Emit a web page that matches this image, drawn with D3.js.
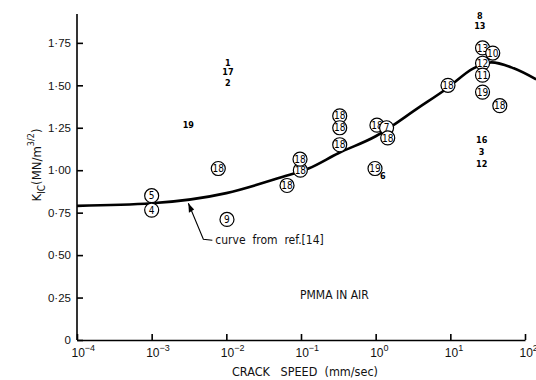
<!DOCTYPE html>
<html>
<head>
<meta charset="utf-8">
<script src="https://cdn.jsdelivr.net/npm/d3@7"></script>
<style>
  body { margin: 0; background: #fff; }
  svg { display: block; font-family: "Liberation Sans Narrow", "DejaVu Sans Condensed", "Liberation Sans", sans-serif; }
</style>
</head>
<body>
<div id="chart"></div>
<script>
// crack speed (mm/sec) vs K_IC (MN/m^3/2), labels are reference numbers
const circledRef = ["5", "4", "18", "9", "18", "18", "18", "18", "18", "18", "18", "7", "18", "19", "18", "13", "10", "12", "11", "19", "18"];
const circledSpeed = [0.001, 0.001, 0.0078, 0.0102, 0.065, 0.098, 0.097, 0.33, 0.33, 0.33, 1.04, 1.4, 1.45, 0.98, 9.3, 27, 37, 27, 27, 27, 46];
const circledK = [0.85, 0.765, 1.01, 0.71, 0.91, 1.0, 1.065, 1.32, 1.25, 1.15, 1.265, 1.25, 1.19, 1.01, 1.5, 1.72, 1.69, 1.63, 1.56, 1.46, 1.38];

const plainRef = ["19", "1", "17", "2", "6", "8", "13", "16", "3", "12"];
const plainSpeed = [0.0031, 0.0105, 0.0105, 0.0105, 1.25, 24.8, 24.8, 26.3, 26.3, 26.3];
const plainK = [1.265, 1.635, 1.58, 1.515, 0.97, 1.91, 1.85, 1.18, 1.11, 1.04];

// curve from ref.[14]
const curveSpeed = [1e-4, 1e-3, 1e-2, 0.056, 0.126, 0.316, 1, 3.8, 8.9, 20.4, 35.5, 70.8, 141];
const curveK = [0.79, 0.805, 0.865, 0.96, 1.01, 1.10, 1.2, 1.37, 1.48, 1.6, 1.635, 1.60, 1.535];

const xTicks = [1e-4, 1e-3, 1e-2, 1e-1, 1, 10, 100];
const xExp = ["-4", "-3", "-2", "-1", "0", "1", "2"];
const yTicks = [0, 0.25, 0.5, 0.75, 1.0, 1.25, 1.5, 1.75];

const width = 536, height = 380;
const svg = d3.select("#chart").append("svg")
    .attr("width", width)
    .attr("height", height);

const x = d3.scaleLog().domain([1e-4, 1e2]).range([77, 525]);
const y = d3.scaleLinear().domain([0, 1.92]).range([340, 14]);

// curve first so circles cover it
const line = d3.line()
    .x((d, i) => x(curveSpeed[i]))
    .y((d, i) => y(curveK[i]))
    .curve(d3.curveMonotoneX);

svg.append("path")
    .datum(curveK)
    .attr("d", line)
    .attr("fill", "none")
    .attr("stroke", "#000")
    .attr("stroke-width", 2.6);

// axes
const xAxis = svg.append("g")
    .attr("transform", `translate(0,${y(0)})`)
    .call(d3.axisBottom(x).tickValues(xTicks).tickSize(-6).tickSizeOuter(0).tickPadding(8).tickFormat(""));

xAxis.selectAll(".tick text").each(function(d, i) {
    const t = d3.select(this)
        .attr("text-anchor", "start")
        .attr("x", -6)
        .attr("font-size", 12)
        .attr("fill", "#111");
    t.append("tspan").text("10");
    t.append("tspan")
        .attr("dy", -6)
        .attr("font-size", 9)
        .text(xExp[i].replace("-", "\u2212"));
});

const yAxis = svg.append("g")
    .attr("transform", `translate(${x(1e-4)},0)`)
    .call(d3.axisLeft(y).tickValues(yTicks).tickSize(-6).tickSizeOuter(0).tickPadding(6)
        .tickFormat(d => d === 0 ? "0" : d3.format(".2f")(d).replace(".", "\u00b7")));

yAxis.selectAll(".tick text").attr("font-size", 11.5).attr("fill", "#111");

svg.selectAll(".domain").attr("stroke", "#000").attr("stroke-width", 1.6);
svg.selectAll(".tick line").attr("stroke", "#000").attr("stroke-width", 1.6);

// extend y axis to top
yAxis.select(".domain").attr("d", `M0,${y(0)}V${y(1.92)}`);

// axis titles
svg.append("text")
    .attr("x", 305)
    .attr("y", 376)
    .attr("text-anchor", "middle")
    .attr("font-size", 12.5)
    .attr("fill", "#111")
    .attr("xml:space", "preserve")
    .text("CRACK   SPEED  (mm/sec)");

const yTitle = svg.append("text")
    .attr("transform", "translate(41,165) rotate(-90)")
    .attr("text-anchor", "middle")
    .attr("font-size", 13)
    .attr("fill", "#111");
yTitle.append("tspan").text("K");
yTitle.append("tspan").attr("dy", 4).attr("font-size", 10).text("IC");
yTitle.append("tspan").attr("dy", -4).text("(MN/m");
yTitle.append("tspan").attr("dy", -7).attr("font-size", 9).text("3/2");
yTitle.append("tspan").attr("dy", 7).text(")");

// circled markers
const circ = svg.append("g").selectAll("g")
    .data(circledRef)
    .join("g")
    .attr("transform", (d, i) => `translate(${x(circledSpeed[i])},${y(circledK[i])})`);

circ.append("circle")
    .attr("r", 7)
    .attr("fill", "#fff")
    .attr("stroke", "#000")
    .attr("stroke-width", 1.2);

circ.append("text")
    .attr("text-anchor", "middle")
    .attr("dy", "0.36em")
    .attr("font-size", 10)
    .attr("fill", "#000")
    .text(d => d);

// plain labels
svg.append("g").selectAll("text")
    .data(plainRef)
    .join("text")
    .attr("x", (d, i) => x(plainSpeed[i]))
    .attr("y", (d, i) => y(plainK[i]))
    .attr("dy", "0.36em")
    .attr("text-anchor", "middle")
    .attr("font-size", 9)
    .attr("font-weight", "bold")
    .attr("fill", "#000")
    .text(d => d);

// annotation arrow
const arrowTip = [x(0.0031), y(0.805)];
svg.append("path")
    .attr("d", `M${arrowTip[0]},${arrowTip[1]} L${arrowTip[0] + 15},${arrowTip[1] + 36} L${arrowTip[0] + 24},${arrowTip[1] + 37}`)
    .attr("fill", "none")
    .attr("stroke", "#000")
    .attr("stroke-width", 1.1);

svg.append("path")
    .attr("d", "M0,0 L-3,9 L3,8 Z")
    .attr("transform", `translate(${arrowTip[0]},${arrowTip[1]}) rotate(-22)`)
    .attr("fill", "#000");

svg.append("text")
    .attr("x", arrowTip[0] + 27)
    .attr("y", arrowTip[1] + 41)
    .attr("font-size", 12)
    .attr("fill", "#111")
    .attr("xml:space", "preserve")
    .text("curve  from  ref.[14]");

svg.append("text")
    .attr("x", 300)
    .attr("y", 299)
    .attr("font-size", 12)
    .attr("fill", "#111")
    .text("PMMA IN AIR");
</script>
</body>
</html>
